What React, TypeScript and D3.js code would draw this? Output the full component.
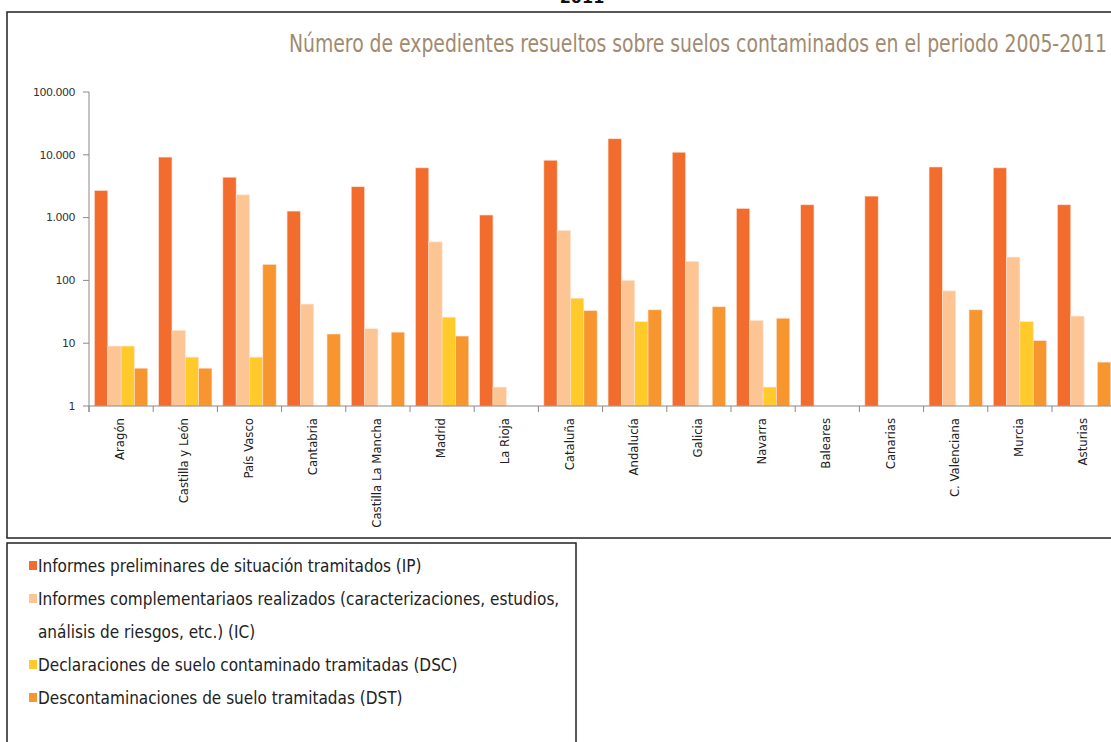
import React from 'react';
import * as d3 from 'd3';

const categories = ['Aragón', 'Castilla y León', 'País Vasco', 'Cantabria', 'Castilla La Mancha', 'Madrid', 'La Rioja', 'Cataluña', 'Andalucía', 'Galicia', 'Navarra', 'Baleares', 'Canarias', 'C. Valenciana', 'Murcia', 'Asturias'];

// null = no bar in the picture
const ipValues = [2700, 9200, 4400, 1270, 3100, 6200, 1100, 8200, 18000, 11000, 1400, 1600, 2200, 6400, 6200, 1600];
const icValues = [9, 16, 2300, 42, 17, 410, 2, 620, 100, 200, 23, null, null, 68, 235, 27];
const dscValues = [9, 6, 6, null, null, 26, null, 52, 22, null, 2, null, null, null, 22, null];
const dstValues = [4, 4, 180, 14, 15, 13, null, 33, 34, 38, 25, null, null, 34, 11, 5];

const seriesKeys = ['IP', 'IC', 'DSC', 'DST'];
const seriesColors = ['#f26d2d', '#fdc593', '#ffca2a', '#f7952f'];
const legendLines = [
  ['Informes preliminares de situación  tramitados (IP)'],
  ['Informes complementariaos realizados (caracterizaciones, estudios,', 'análisis de riesgos, etc.) (IC)'],
  ['Declaraciones de suelo contaminado tramitadas (DSC)'],
  ['Descontaminaciones de suelo tramitadas (DST)'],
];
const yTicks = [1, 10, 100, 1000, 10000, 100000];

const title = 'Número de expedientes resueltos sobre suelos contaminados en el periodo 2005-2011';
const condensed = '"DejaVu Sans Condensed", "Liberation Sans Narrow", "DejaVu Sans", sans-serif';

const esLocale = d3.formatLocale({ decimal: ',', thousands: '.', grouping: [3], currency: ['', ''] });
const fmt = esLocale.format(',d');

export default function App() {
  const W = 1111;
  const H = 742;
  const left = 89;
  const step = 64.2;

  const x0 = d3.scaleBand<string>()
    .domain(categories)
    .range([left, left + step * categories.length])
    .paddingInner(0.17)
    .paddingOuter(0.085);
  const x1 = d3.scaleBand<string>().domain(seriesKeys).range([0, x0.bandwidth()]);
  const y = d3.scaleLog().domain([1, 100000]).range([406, 92]);

  const allSeries = [ipValues, icValues, dscValues, dstValues];
  const bars = categories.flatMap((c, i) =>
    seriesKeys.map((k, j) => ({ c, k, j, v: allSeries[j][i] })).filter(d => d.v != null)
  );

  const boundaries = d3.range(categories.length + 1).map(i => left + i * x0.step());

  // legend rows: every text line is 33px apart
  let lineIdx = 0;
  const legendRows = legendLines.map((lines, i) => {
    const row = { lines, y: 572 + lineIdx * 33, color: seriesColors[i] };
    lineIdx += lines.length;
    return row;
  });

  return (
    <svg width={W} height={H} style={{ position: 'absolute', left: 0, top: 0, background: '#fff' }}>
      <text x={582} y={3} textAnchor="middle" fontFamily="'DejaVu Sans', sans-serif" fontWeight="bold" fontSize={16} fill="#111">2011</text>

      {/* chart frame */}
      <rect x={7} y={12} width={W + 20} height={526} fill="none" stroke="#222" strokeWidth={1.5} />

      <text x={1107} y={52} textAnchor="end" fontFamily={condensed} fontSize={24} fill="#a08b70"
        textLength={818} lengthAdjust="spacingAndGlyphs">{title}</text>

      {/* y axis */}
      <line x1={left} x2={left} y1={y(100000)} y2={412} stroke="#888" />
      {yTicks.map(t => (
        <g key={t}>
          <line x1={left - 6} x2={left} y1={y(t)} y2={y(t)} stroke="#888" />
          <text x={75} y={y(t)} dy="0.35em" textAnchor="end" fontFamily="'DejaVu Sans', sans-serif" fontSize={11} fill="#333" letterSpacing={-0.5}>{fmt(t)}</text>
        </g>
      ))}

      {/* bars */}
      {bars.map(d => (
        <rect key={d.c + d.k}
          x={(x0(d.c) as number) + (x1(d.k) as number)}
          y={y(d.v as number)}
          width={x1.bandwidth()}
          height={y(1) - y(d.v as number)}
          fill={seriesColors[d.j]}
          stroke="#fde3d2" strokeWidth={0.6} />
      ))}

      {/* x axis */}
      <line x1={left} x2={W} y1={y(1)} y2={y(1)} stroke="#888" />
      {boundaries.map(b => (
        <line key={b} x1={b} x2={b} y1={y(1)} y2={y(1) + 6} stroke="#888" />
      ))}
      {categories.map(c => (
        <text key={c}
          transform={`translate(${(x0(c) as number) + x0.bandwidth() / 2 + 3},${418}) rotate(-90)`}
          textAnchor="end" fontFamily={condensed} fontSize={13} fill="#222">{c}</text>
      ))}

      {/* legend */}
      <rect x={7} y={543} width={569} height={H} fill="none" stroke="#222" strokeWidth={1.5} />
      {legendRows.map((r, i) => (
        <g key={i}>
          <rect x={29} y={r.y - 11} width={8} height={9} fill={r.color} />
          {r.lines.map((ln, k) => (
            <text key={k} x={38} y={r.y + k * 33} fontFamily={condensed} fontSize={17} fill="#222">{ln}</text>
          ))}
        </g>
      ))}
    </svg>
  );
}
